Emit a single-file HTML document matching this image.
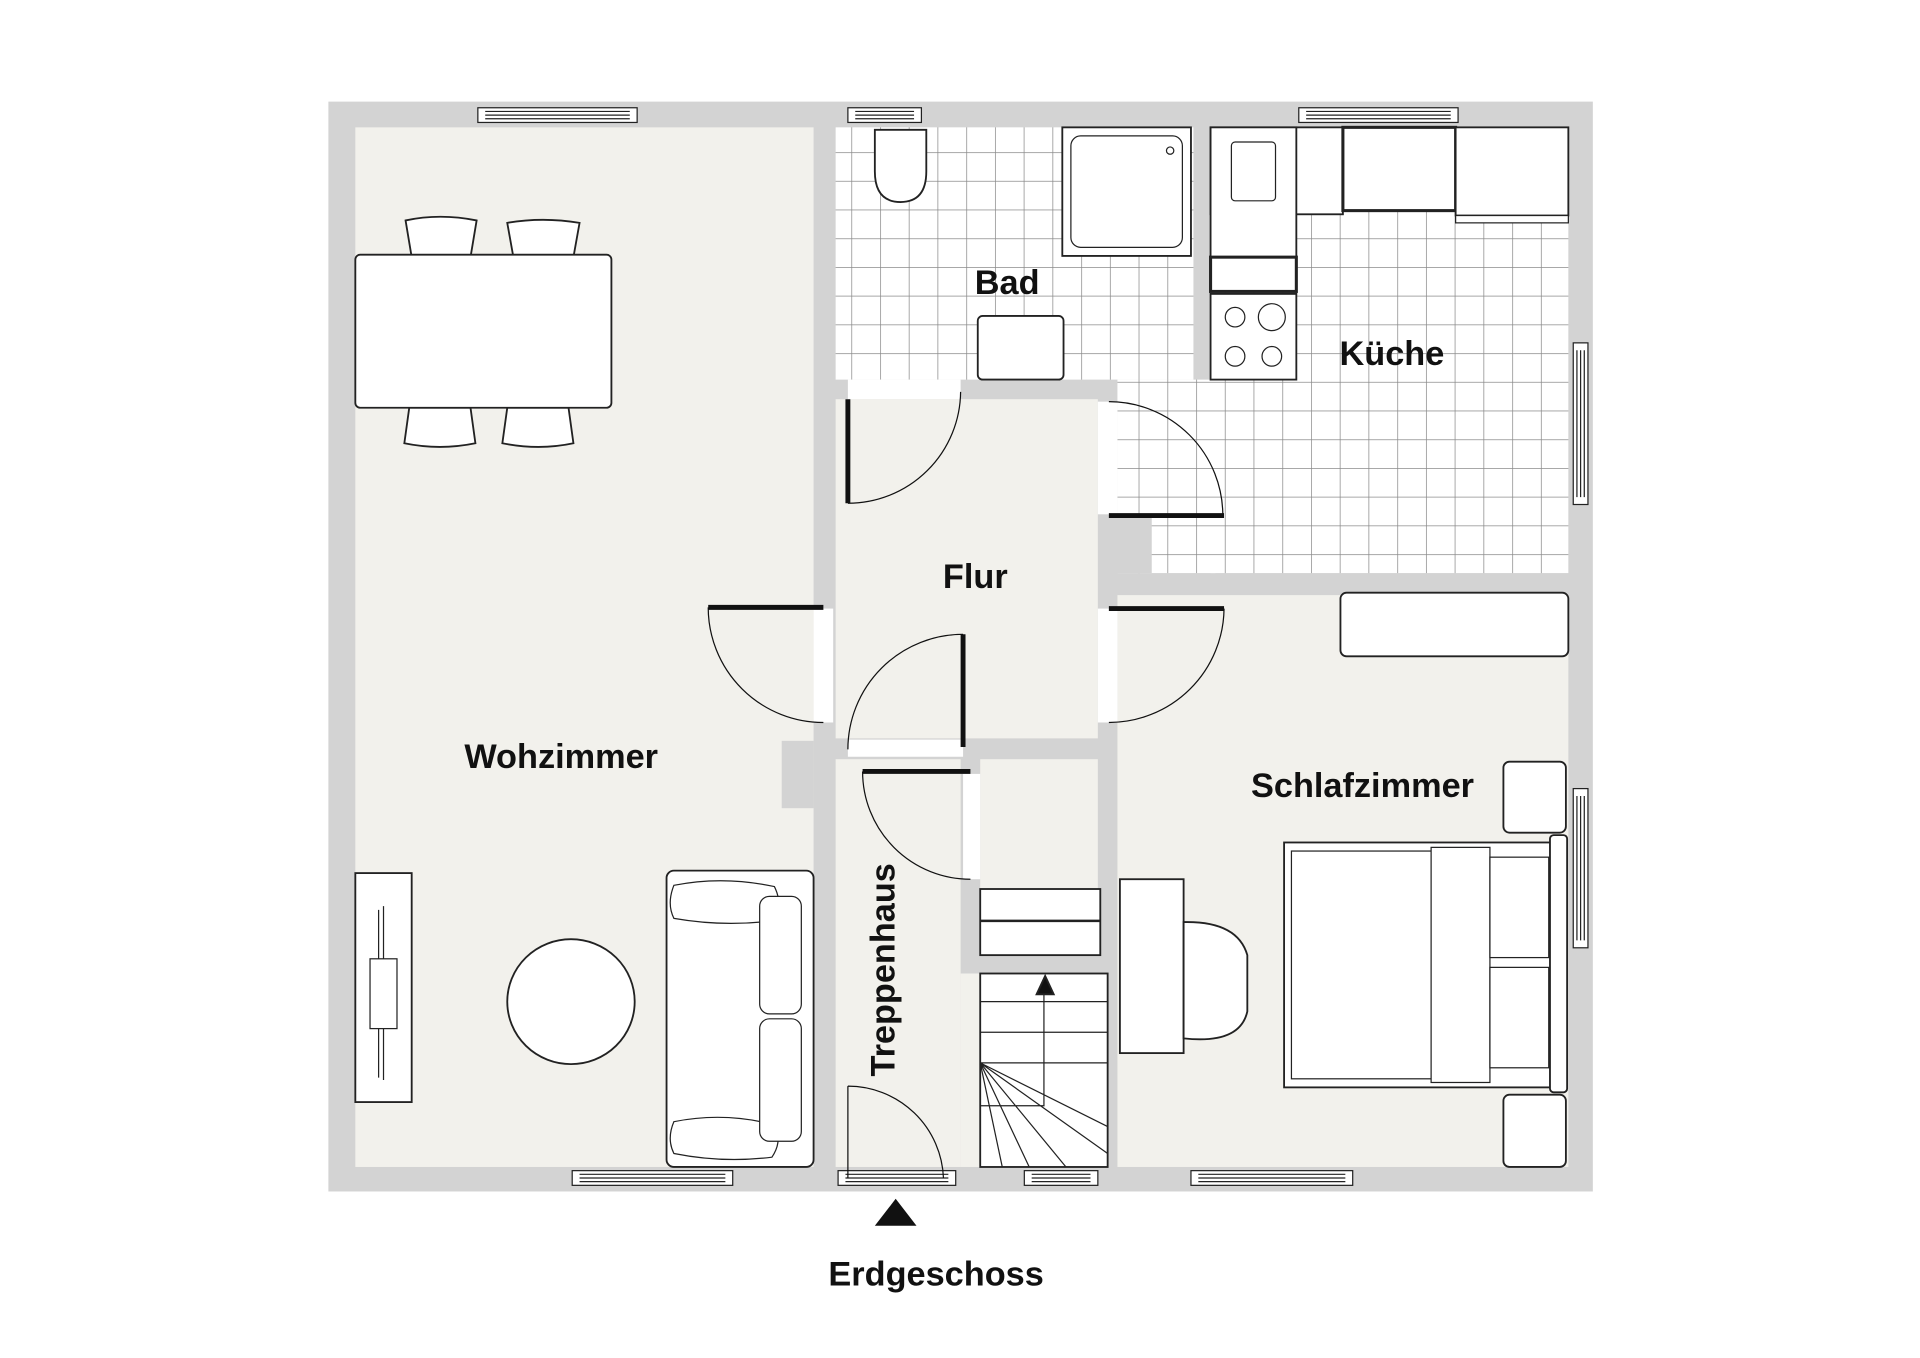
<!DOCTYPE html>
<html><head><meta charset="utf-8"><style>
html,body{margin:0;padding:0;background:#fff;}
svg{display:block;}
text{font-family:"Liberation Sans",Arial,sans-serif;font-weight:bold;fill:#111;}
</style></head><body>
<svg width="1920" height="1358" viewBox="0 0 1567 1109" preserveAspectRatio="none" xmlns="http://www.w3.org/2000/svg">
<defs>
<pattern id="tile" patternUnits="userSpaceOnUse" x="1070" y="194.6" width="23.45" height="23.45">
<rect width="23.45" height="23.45" fill="#fff"/>
<path d="M0 0H23.45M0 0V23.45" stroke="#8a8a8a" stroke-width="1.2" fill="none"/>
</pattern>
</defs>
<rect width="1567" height="1109" fill="#fff"/>
<rect x="268" y="83" width="1032" height="890" fill="#d3d3d3"/>
<g fill="#f2f1ec">
<rect x="290" y="104" width="374" height="849"/>
<rect x="682" y="326" width="214" height="277"/>
<rect x="912" y="486" width="368" height="467"/>
<rect x="682" y="620" width="102" height="333"/>
<rect x="784" y="795" width="120" height="158"/>
<rect x="800" y="620" width="96" height="160"/>
</g>
<rect x="638" y="605" width="26" height="55" fill="#d3d3d3"/>
<rect x="682" y="104" width="292" height="206" fill="url(#tile)"/>
<rect x="988" y="104" width="292" height="364" fill="url(#tile)"/>
<rect x="912" y="310" width="80" height="158" fill="url(#tile)"/>
<rect x="905" y="422" width="35" height="46" fill="#d3d3d3"/>
<g fill="#fff" stroke="#222" stroke-width="1">
<rect x="390" y="88" width="130" height="12"/><path d="M396 91H514M396 94H514M396 97H514" fill="none"/>
<rect x="692" y="88" width="60" height="12"/><path d="M698 91H746M698 94H746M698 97H746" fill="none"/>
<rect x="1060" y="88" width="130" height="12"/><path d="M1066 91H1184M1066 94H1184M1066 97H1184" fill="none"/>
<rect x="1284" y="280" width="12" height="132"/><path d="M1287 286V406M1290 286V406M1293 286V406" fill="none"/>
<rect x="1284" y="644" width="12" height="130"/><path d="M1287 650V768M1290 650V768M1293 650V768" fill="none"/>
<rect x="467" y="956" width="131" height="12"/><path d="M473 959H592M473 962H592M473 965H592" fill="none"/>
<rect x="684" y="956" width="96" height="12"/><path d="M690 959H774M690 962H774M690 965H774" fill="none"/>
<rect x="836" y="956" width="60" height="12"/><path d="M842 959H890M842 962H890M842 965H890" fill="none"/>
<rect x="972" y="956" width="132" height="12"/><path d="M978 959H1098M978 962H1098M978 965H1098" fill="none"/>
</g>
<g fill="#fff">
<rect x="692" y="310" width="92" height="16"/>
<rect x="896" y="328" width="16" height="92"/>
<rect x="664" y="497" width="16" height="93"/>
<rect x="896" y="497" width="16" height="93"/>
<rect x="692" y="604" width="94" height="14"/>
<rect x="786" y="632" width="14" height="86"/>
</g>
<g fill="none" stroke="#111">
<path d="M784 320A92 92 0 0 1 692 411" stroke-width="1"/><path d="M692 326V411" stroke-width="4"/>
<path d="M905 328A93 93 0 0 1 998 421" stroke-width="1"/><path d="M905 421H999" stroke-width="4"/>
<path d="M578 496A94 94 0 0 0 672 590" stroke-width="1"/><path d="M578 496H672" stroke-width="4"/>
<path d="M999 497A94 94 0 0 1 905 590" stroke-width="1"/><path d="M905 497H999" stroke-width="4"/>
<path d="M786 518A94 94 0 0 0 692 612" stroke-width="1"/><path d="M786 518V610" stroke-width="4"/>
<path d="M704 630A88 88 0 0 0 792 718" stroke-width="1"/><path d="M704 630H792" stroke-width="4"/>
<path d="M692 887A78 78 0 0 1 770 962M692 887V962" stroke-width="1"/>
</g>
<g stroke="#222" fill="#fff" stroke-width="1.5">
<path d="M714 106H756V140Q756 165 735 165Q714 165 714 140Z"/>
<rect x="867" y="104" width="105" height="105"/>
<rect x="874" y="111" width="91" height="91" rx="8" stroke-width="1"/>
<circle cx="955" cy="123" r="3" stroke-width="1"/>
<rect x="798" y="258" width="70" height="52" rx="4"/>
</g>
<g stroke="#222" fill="#fff" stroke-width="1.5">
<rect x="988" y="104" width="108" height="71"/>
<rect x="988" y="104" width="70" height="106"/>
<rect x="1005" y="116" width="36" height="48" rx="3" stroke-width="1"/>
<rect x="1096" y="104" width="92" height="68" stroke-width="2.5"/>
<rect x="1188" y="104" width="92" height="72"/>
<rect x="1188" y="176" width="92" height="6" stroke-width="1"/>
<rect x="988" y="210" width="70" height="28" stroke-width="2.5"/>
<rect x="988" y="240" width="70" height="70"/>
<circle cx="1008" cy="259" r="8" stroke-width="1"/><circle cx="1038" cy="259" r="11" stroke-width="1"/>
<circle cx="1008" cy="291" r="8" stroke-width="1"/><circle cx="1038" cy="291" r="8" stroke-width="1"/>
</g>
<g stroke="#222" fill="#fff" stroke-width="1.5">
<path d="M331 180Q359 174 389 180L384 210H336Z"/><path d="M414 182Q443 177 473 182L468 210H419Z"/>
<path d="M334 333H384L388 362Q359 368 330 362Z"/><path d="M414 333H464L468 362Q440 368 410 362Z"/>
<rect x="290" y="208" width="209" height="125" rx="4"/>
<rect x="290" y="713" width="46" height="187"/>
<path d="M309 743V880M313 740V882" stroke-width="1"/><rect x="302" y="783" width="22" height="57" stroke-width="1"/>
<ellipse cx="466" cy="818" rx="52" ry="51"/>
<rect x="544" y="711" width="120" height="242" rx="6"/>
<path d="M550 723Q590 715 632 724Q640 740 630 752Q590 757 550 750Q544 738 550 723Z" stroke-width="1"/>
<path d="M550 916Q590 908 630 918Q640 930 630 945Q590 950 550 942Q544 930 550 916Z" stroke-width="1"/>
<rect x="620" y="732" width="34" height="96" rx="8" stroke-width="1"/>
<rect x="620" y="832" width="34" height="100" rx="8" stroke-width="1"/>
</g>
<g stroke="#222" fill="#fff" stroke-width="1.5">
<rect x="800" y="726" width="98" height="54"/><path d="M800 752H898" stroke-width="2"/>
<rect x="800" y="795" width="104" height="158"/>
<path d="M800 818H904M800 843H904M800 868H904M800 868L904 920M800 868L904 942M800 868L870 953M800 868L840 953M800 868L818 953M800 903H852V812" stroke-width="1" fill="none"/>
<path d="M846 812L853 797L860 812Z" fill="#111"/>
</g>
<g stroke="#222" fill="#fff" stroke-width="1.5">
<rect x="1094" y="484" width="186" height="52" rx="5"/>
<rect x="914" y="718" width="52" height="142"/>
<path d="M966 753Q1010 752 1018 780V826Q1012 853 966 848Z"/>
<rect x="1227" y="622" width="51" height="58" rx="5"/>
<rect x="1227" y="894" width="51" height="59" rx="5"/>
<rect x="1048" y="688" width="222" height="200"/>
<rect x="1054" y="695" width="114" height="186" stroke-width="1"/>
<rect x="1168" y="692" width="48" height="192" stroke-width="1"/>
<rect x="1216" y="700" width="48" height="82" stroke-width="1"/>
<rect x="1216" y="790" width="48" height="82" stroke-width="1"/>
<rect x="1265" y="682" width="14" height="210" rx="3"/>
</g>
<text x="822" y="240" font-size="28" text-anchor="middle">Bad</text>
<text x="1136" y="298" font-size="28" text-anchor="middle">Küche</text>
<text x="796" y="480" font-size="28" text-anchor="middle">Flur</text>
<text x="458" y="627" font-size="28" text-anchor="middle">Wohzimmer</text>
<text x="1112" y="651" font-size="28" text-anchor="middle">Schlafzimmer</text>
<text transform="translate(730,792) rotate(-90)" font-size="28" text-anchor="middle">Treppenhaus</text>
<path d="M714 1001L731 979L748 1001Z" fill="#111"/>
<text x="764" y="1050" font-size="28" text-anchor="middle">Erdgeschoss</text>
</svg>
</body></html>
